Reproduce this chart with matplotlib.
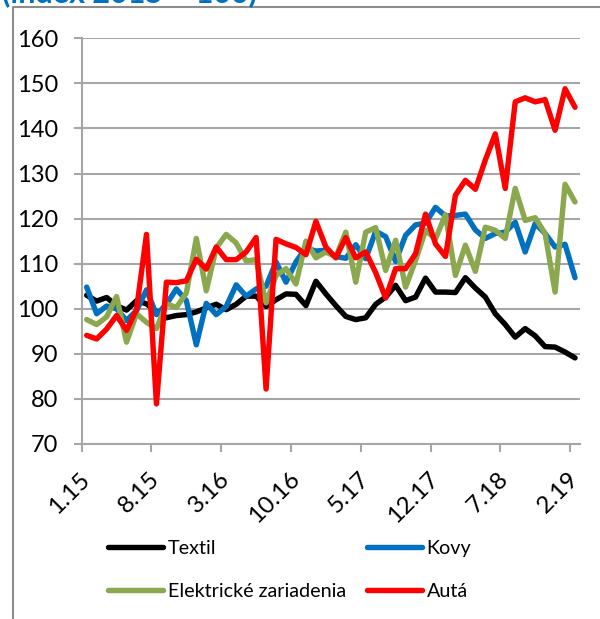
"""
Monthly production index by industry (index 2015 = 100), 1.15 - 2.19.
Saves out.png.
"""

import matplotlib

matplotlib.use("Agg")
import matplotlib.pyplot as plt
from matplotlib.lines import Line2D

# ---------------------------------------------------------------------------
# Data (monthly, Jan 2015 .. Feb 2019)
# ---------------------------------------------------------------------------

TICK_LABELS = ["1.15", "8.15", "3.16", "10.16", "5.17", "12.17", "7.18", "2.19"]

textil = [
    103.0, 101.7, 102.5, 100.7, 99.7, 101.8, 101.1, 99.4, 98.0, 98.5,
    98.7, 99.3, 100.2, 101.0, 99.8, 101.0, 102.8, 102.8, 100.5, 102.0,
    103.3, 103.2, 100.7, 106.1, 103.3, 100.7, 98.3, 97.6, 98.0, 101.0,
    102.6, 105.2, 101.8, 102.6, 106.8, 103.7, 103.7, 103.6, 106.9, 104.6,
    102.6, 98.9, 96.5, 93.7, 95.6, 94.0, 91.6, 91.5, 90.4, 89.1,
]
kovy = [
    104.8, 98.9, 100.6, 100.0, 97.4, 99.6, 104.2, 98.7, 101.0, 104.4,
    101.8, 92.0, 101.2, 98.7, 100.5, 105.3, 102.8, 104.4, 105.0, 110.4,
    105.9, 110.4, 113.5, 112.8, 113.0, 111.6, 111.2, 114.2, 111.1, 117.2,
    116.0, 110.5, 116.3, 118.6, 119.0, 122.5, 120.6, 120.7, 121.0, 117.5,
    115.6, 116.7, 117.0, 119.2, 112.6, 118.9, 116.7, 113.7, 114.3, 106.9,
]
elektricke = [
    97.6, 96.5, 98.2, 102.7, 92.6, 98.9, 97.0, 95.6, 101.1, 100.3,
    103.5, 115.6, 104.0, 113.5, 116.5, 114.6, 110.6, 110.9, 101.3, 107.4,
    108.9, 105.5, 115.0, 111.3, 112.6, 111.5, 117.0, 105.9, 117.0, 118.0,
    108.5, 115.2, 104.8, 110.7, 117.4, 115.5, 120.9, 107.4, 114.1, 108.3,
    118.1, 117.4, 115.6, 126.7, 119.6, 120.2, 116.7, 103.7, 127.6, 123.7,
]
auta = [
    94.1, 93.3, 95.5, 98.5, 95.2, 99.8, 116.5, 78.9, 105.9, 105.8,
    106.2, 111.0, 108.8, 113.7, 110.9, 110.9, 112.6, 115.8, 82.2, 115.4,
    114.4, 113.6, 112.0, 119.4, 113.7, 111.3, 115.8, 111.3, 112.6, 108.0,
    102.4, 108.9, 108.9, 112.2, 121.0, 114.4, 111.6, 125.2, 128.5, 126.5,
    133.0, 138.8, 126.7, 145.9, 146.8, 145.9, 146.4, 139.6, 148.8, 144.7,
]

SERIES = [
    ("Textil", textil, "#000000"),
    ("Kovy", kovy, "#0070C0"),
    ("Elektrické zariadenia", elektricke, "#8BA84E"),
    ("Autá", auta, "#FF0000"),
]

GRID_COLOR = "#A6A6A6"
FONT = "Lato"


def main() -> None:
    plt.rcParams["font.family"] = [FONT, "DejaVu Sans"]

    W, H = 600, 619
    fig = plt.figure(figsize=(W / 100, H / 100), dpi=100)
    ax = fig.add_axes([81.7 / W, 1 - 444 / H, (580 - 81.7) / W, (444 - 38.3) / H])

    months = list(range(len(textil)))
    handles = {}
    for name, values, color in SERIES:
        (ln,) = ax.plot(months, values, color=color, linewidth=3.9,
                        solid_joinstyle="round", solid_capstyle="round",
                        label=name)
        handles[name] = ln

    ax.set_xlim(-0.5, len(months) - 0.5)
    ax.set_ylim(70, 160)
    ax.set_yticks(range(70, 161, 10))

    # Excel category axis: tick marks sit between categories, labels on them
    label_pos = months[::7]
    ax.set_xticks([m - 0.5 for m in label_pos])
    ax.set_xticklabels([])
    ax.set_xticks(label_pos, minor=True)
    ax.set_xticklabels(TICK_LABELS, minor=True, rotation=45, ha="right",
                       va="center", rotation_mode="anchor")

    ax.grid(axis="y", color=GRID_COLOR, linewidth=1.5)
    ax.set_axisbelow(True)
    for side in ("top", "right"):
        ax.spines[side].set_visible(False)
    for side in ("left", "bottom"):
        ax.spines[side].set_color(GRID_COLOR)
        ax.spines[side].set_linewidth(1.5)
    ax.tick_params(axis="y", length=6, width=1.5, color=GRID_COLOR,
                   labelsize=17, pad=11)
    ax.tick_params(axis="x", which="major", length=6, width=1.5,
                   color=GRID_COLOR)
    ax.tick_params(axis="x", which="minor", length=0, labelsize=17.5, pad=23)

    # legend: column-first order gives Textil/Kovy on row 1
    order = ["Textil", "Elektrické zariadenia", "Kovy", "Autá"]
    fig.legend(
        [handles[n] for n in order], order,
        loc="upper left", bbox_to_anchor=(108 / W, 1 - 540 / H),
        ncol=2, frameon=False, fontsize=14.2,
        handlelength=2.78, handletextpad=0.26, columnspacing=1.05,
        labelspacing=1.3, borderpad=0, borderaxespad=0,
    )

    # clipped title and frame at the top-left, as in the source slide
    fig.text(2 / W, 1 - 2.5 / H, "(index 2015 = 100)", color="#0070C0",
             fontsize=22, fontweight="bold", ha="left", va="baseline")
    fig.add_artist(Line2D([13 / W, 13 / W, 1.0], [0.0, 1 - 7 / H, 1 - 7 / H],
                          transform=fig.transFigure, color="#8C8C8C",
                          linewidth=1.5))

    fig.savefig("out.png", dpi=100)
    plt.close(fig)


if __name__ == "__main__":
    main()
